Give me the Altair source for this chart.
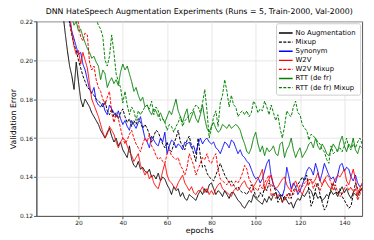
import altair as alt
import pandas as pd

# epochs shown on the x axis
epochs = list(range(1, 149))

series_names = ["No Augmentation", "Mixup", "Synonym", "W2V", "W2V Mixup",
                "RTT (de fr)", "RTT (de fr) Mixup"]
series_colors = ["#000000", "#000000", "#0000ff", "#ff0000", "#ff0000",
                 "#008000", "#008000"]
series_dash = [[1, 0], [3, 1.5], [1, 0], [1, 0], [3, 1.5], [1, 0], [3, 1.5]]

# validation error values in thousandths (0.001), epochs 1..148
no_aug = [
    420, 380, 350, 325, 305, 290, 278, 266, 256, 247,
    239, 231, 224, 214, 205, 197, 192, 185, 199, 189,
    180, 176, 180, 178, 176, 173, 171, 169, 167, 164,
    162, 160, 163, 165, 161, 158, 160, 156, 158, 154,
    152, 150, 156, 149, 146, 145, 148, 144, 145, 143,
    142, 144, 140, 141, 139, 142, 138, 140, 139, 136,
    134, 131, 135, 133, 134, 130, 132, 129, 128, 131,
    130, 129, 128, 131, 133, 131, 134, 132, 136, 137,
    134, 131, 133, 132, 130, 133, 131, 129, 132, 132,
    130, 128, 127, 125, 124, 126, 128, 127, 131, 129,
    128, 127, 126, 129, 127, 130, 128, 131, 132, 129,
    131, 127, 130, 128, 126, 127, 124, 127, 129, 128,
    131, 130, 132, 134, 133, 130, 132, 129, 130, 128,
    129, 131, 130, 133, 131, 132, 130, 133, 135, 132,
    134, 131, 129, 132, 131, 130, 133, 134,
]
mixup = [
    450, 410, 375, 345, 320, 300, 284, 270, 258, 248,
    240, 236, 232, 228, 226, 219, 213, 208, 205, 200,
    196, 192, 189, 186, 185, 183, 182, 180, 179, 178,
    176, 179, 174, 172, 175, 171, 173, 170, 173, 175,
    171, 168, 170, 166, 169, 167, 170, 168, 165, 167,
    165, 162, 158, 161, 164, 163, 160, 157, 155, 158,
    154, 153, 157, 160, 164, 158, 156, 154, 159, 161,
    156, 152, 148, 160, 151, 145, 146, 142, 140, 139,
    138, 141, 144, 147, 144, 141, 139, 137, 138, 136,
    134, 135, 133, 132, 132, 131, 133, 136, 134, 130,
    129, 132, 130, 135, 133, 137, 136, 135, 133, 127,
    129, 131, 128, 130, 132, 129, 133, 135, 136, 138,
    140, 138, 141, 133, 125, 128, 134, 137, 131, 127,
    123, 125, 130, 134, 137, 133, 131, 134, 130, 128,
    126, 124, 125, 131, 137, 134, 132, 135,
]
synonym = [
    430, 390, 360, 335, 312, 294, 279, 267, 257, 249,
    242, 236, 231, 227, 224, 220, 215, 211, 207, 203,
    204, 198, 195, 190, 185, 183, 186, 179, 177, 176,
    178, 174, 172, 177, 175, 173, 171, 174, 170, 167,
    169, 166, 164, 169, 167, 165, 168, 171, 165, 160,
    158, 155, 161, 159, 157, 156, 160, 158, 163, 152,
    156, 159, 158, 155, 157, 156, 154, 158, 157, 158,
    155, 156, 152, 157, 160, 157, 159, 160, 158, 157,
    158, 155, 154, 152, 155, 158, 157, 155, 159, 158,
    155, 152, 154, 151, 150, 148, 147, 144, 141, 139,
    140, 137, 139, 143, 147, 149, 140, 136, 134, 133,
    131, 130, 134, 145, 140, 134, 137, 135, 131, 133,
    136, 139, 143, 145, 144, 141, 147, 143, 138, 142,
    147, 144, 141, 139, 140, 137, 141, 146, 147, 143,
    145, 144, 140, 138, 141, 137, 135, 136,
]
w2v = [
    440, 400, 368, 342, 320, 302, 287, 275, 265, 257,
    250, 244, 239, 235, 231, 225, 214, 207, 203, 205,
    198, 204, 200, 196, 188, 180, 177, 174, 171, 167,
    163, 160, 162, 166, 164, 162, 158, 155, 158, 160,
    159, 156, 153, 151, 148, 150, 152, 146, 144, 141,
    143, 139, 141, 137, 135, 134, 138, 143, 147, 141,
    138, 137, 135, 134, 137, 139, 141, 137, 135, 133,
    135, 132, 131, 133, 133, 135, 132, 134, 131, 133,
    131, 134, 136, 137, 134, 133, 132, 131, 130, 133,
    134, 133, 135, 137, 138, 135, 134, 132, 135, 137,
    139, 141, 144, 133, 137, 139, 141, 136, 134, 135,
    137, 139, 140, 136, 134, 133, 136, 138, 135, 133,
    131, 134, 136, 139, 138, 137, 139, 142, 138, 136,
    139, 137, 135, 134, 137, 139, 141, 140, 142, 144,
    138, 136, 140, 144, 139, 131, 134, 137,
]
w2v_mixup = [
    460, 420, 385, 355, 330, 310, 294, 281, 270, 261,
    253, 247, 242, 238, 234, 231, 228, 226, 224, 219,
    212, 210, 214, 213, 199, 195, 197, 190, 186, 184,
    180, 177, 181, 184, 173, 168, 172, 170, 165, 160,
    157, 159, 162, 164, 160, 157, 155, 153, 157, 160,
    158, 162, 156, 154, 151, 149, 150, 148, 147, 152,
    154, 151, 150, 149, 150, 146, 144, 141, 145, 152,
    149, 146, 141, 144, 147, 150, 149, 152, 148, 147,
    150, 152, 144, 139, 138, 137, 136, 138, 135, 136,
    138, 137, 139, 142, 146, 144, 139, 137, 135, 134,
    133, 136, 134, 137, 139, 141, 130, 132, 129, 131,
    130, 127, 128, 131, 129, 133, 131, 134, 132, 136,
    135, 137, 138, 136, 139, 134, 137, 135, 133, 136,
    138, 141, 140, 137, 133, 136, 132, 130, 131, 134,
    136, 133, 135, 132, 134, 128, 131, 135,
]
rtt = [
    450, 410, 378, 350, 327, 308, 292, 279, 268, 259,
    251, 245, 240, 235, 231, 228, 222, 218, 220, 215,
    216, 212, 209, 206, 204, 201, 202, 199, 197, 190,
    195, 193, 186, 189, 191, 188, 190, 187, 194, 198,
    195, 197, 193, 189, 184, 186, 182, 179, 181, 176,
    177, 174, 172, 175, 174, 171, 173, 170, 168, 171,
    174, 172, 176, 180, 174, 171, 168, 172, 175, 168,
    171, 174, 170, 168, 172, 177, 170, 165, 163, 166,
    168, 165, 163, 164, 167, 166, 165, 167, 165, 166,
    167, 166, 164, 160, 157, 153, 152, 155, 160, 163,
    157, 153, 156, 151, 155, 153, 154, 156, 152, 151,
    157, 158, 150, 154, 156, 160, 154, 150, 153, 155,
    150, 152, 154, 157, 158, 155, 160, 156, 154, 157,
    155, 152, 151, 154, 157, 155, 153, 158, 161, 156,
    153, 157, 155, 160, 154, 152, 156, 155,
]
rtt_mixup = [
    480, 440, 405, 375, 350, 330, 313, 300, 292, 287,
    282, 276, 270, 265, 260, 256, 252, 248, 245, 242,
    240, 237, 235, 233, 231, 229, 226, 221, 218, 216,
    212, 200, 197, 202, 213, 204, 193, 189, 186, 178,
    184, 177, 172, 176, 174, 169, 174, 172, 174, 176,
    177, 175, 179, 172, 176, 174, 169, 170, 168, 164,
    167, 166, 163, 166, 168, 171, 166, 169, 170, 172,
    173, 175, 177, 176, 173, 178, 185, 174, 160, 165,
    171, 174, 166, 178, 182, 190, 184, 176, 182, 177,
    176, 171, 173, 174, 172, 174, 171, 173, 179, 177,
    173, 175, 174, 179, 176, 172, 177, 173, 169, 172,
    165, 160, 166, 174, 172, 171, 176, 179, 173, 172,
    167, 165, 164, 159, 162, 161, 160, 158, 157, 154,
    153, 149, 147, 156, 152, 153, 154, 155, 153, 156,
    160, 155, 154, 157, 155, 158, 160, 157,
]

all_series = [no_aug, mixup, synonym, w2v, w2v_mixup, rtt, rtt_mixup]
x_ticks = [20, 40, 60, 80, 100, 120, 140]
y_ticks = [0.12, 0.14, 0.16, 0.18, 0.20, 0.22]

rows = []
for order, (name, vals) in enumerate(zip(series_names, all_series)):
    assert len(vals) == len(epochs), (name, len(vals))
    for e, v in zip(epochs, vals):
        rows.append({"epoch": e, "error": v / 1000.0, "series": name, "order": order})
df = pd.DataFrame(rows)

FONT = "DejaVu Sans"

legend = alt.Legend(
    title=None, orient="none", legendX=245, legendY=2,
    symbolType="M-1.4,0L1.4,0", symbolSize=100, symbolStrokeWidth=1.4,
    labelFontSize=7, labelFont=FONT, labelColor="#000000", labelOffset=4,
    rowPadding=0.3, padding=4, fillColor="#ffffff", strokeColor="#cccccc",
    cornerRadius=2,
)

chart = alt.Chart(df).mark_line(strokeWidth=1, clip=True).encode(
    x=alt.X("epoch:Q", scale=alt.Scale(domain=[1, 148], nice=False, zero=False),
            axis=alt.Axis(values=x_ticks, title="epochs", titlePadding=1)),
    y=alt.Y("error:Q", scale=alt.Scale(domain=[0.12, 0.22], nice=False, zero=False),
            axis=alt.Axis(values=y_ticks, format=".2f", title="Validation Error",
                          titlePadding=2)),
    color=alt.Color("series:N", scale=alt.Scale(domain=series_names, range=series_colors),
                    legend=legend, sort=series_names),
    strokeDash=alt.StrokeDash("series:N", scale=alt.Scale(domain=series_names, range=series_dash),
                              legend=legend, sort=series_names),
    order=alt.Order("order:Q"),
    detail="series:N",
).properties(
    width=333, height=199,
    padding={"left": 29, "top": 11, "right": 4, "bottom": 22},
    autosize=alt.AutoSizeParams(type="none"),
    title=alt.Title("DNN HateSpeech Augmentation Experiments (Runs = 5, Train-2000, Val-2000)",
                    fontSize=8, font=FONT, fontWeight="normal", color="#000000",
                    anchor="middle", offset=2),
).configure_axis(
    labelFont=FONT, labelFontSize=6, labelColor="#222222",
    titleFont=FONT, titleFontSize=8, titleFontWeight="normal", titleColor="#000000",
    gridColor="#e0e0e0", gridWidth=0.8, domainColor="#555555", domainWidth=1,
    tickColor="#555555", tickSize=3, labelPadding=1,
).configure_view(
    stroke="#555555", strokeWidth=1,
)

chart.save("out.html", embed_options={"renderer": "svg", "actions": False})
